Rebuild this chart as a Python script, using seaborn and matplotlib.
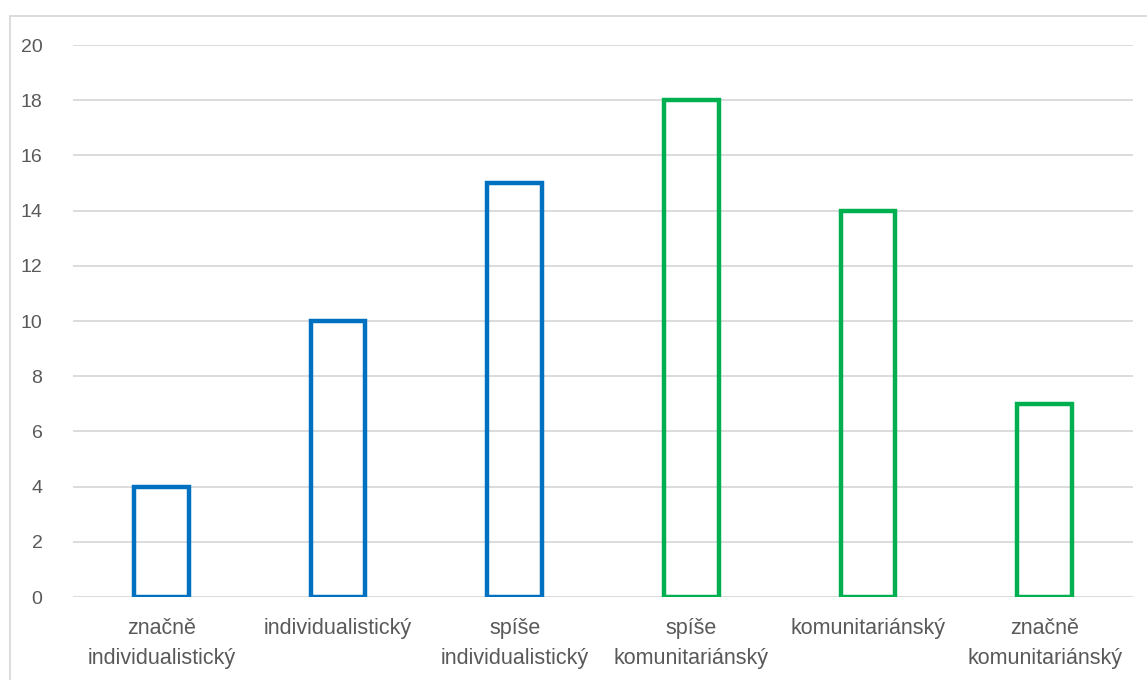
import matplotlib
matplotlib.use("Agg")
import matplotlib.pyplot as plt
import seaborn as sns
from matplotlib.patches import Rectangle

# data
categories = ["značně\nindividualistický", "individualistický", "spíše\nindividualistický",
              "spíše\nkomunitariánský", "komunitariánský", "značně\nkomunitariánský"]
values = [4, 10, 15, 18, 14, 7]
bar_colors = ["#0070C0", "#0070C0", "#0070C0", "#00B050", "#00B050", "#00B050"]
y_ticks = list(range(0, 21, 2))

sns.set_theme(style="white")
plt.rcParams['font.family'] = ['Liberation Sans', 'DejaVu Sans']

fig = plt.figure(figsize=(11.47, 6.8), dpi=100)
ax = fig.add_axes([73 / 1147, 1 - 597 / 680, (1133 - 73) / 1147, (597 - 45) / 680])

sns.barplot(x=categories, y=values, hue=categories, palette=bar_colors, fill=False,
            linewidth=3.2, width=0.31, legend=False, ax=ax, zorder=3)

ax.set_ylim(0, 20)
ax.set_xlim(-0.5, 5.5)
ax.set_yticks(y_ticks)
ax.set_yticklabels([str(t) for t in y_ticks], fontsize=14, color="#595959")
ax.tick_params(axis="x", labelsize=15.5, labelcolor="#595959", pad=15, length=0)
ax.tick_params(axis="y", pad=22, length=0)
ax.set_xlabel("")
ax.set_ylabel("")
ax.yaxis.grid(True, color="#D9D9D9", linewidth=1.3, zorder=0)
ax.set_axisbelow(True)
for s in ax.spines.values():
    s.set_visible(False)
for lab in ax.get_xticklabels():
    lab.set_linespacing(1.6)

# chart area border (cropped)
fig.patches.append(Rectangle((10 / 1147, -0.2), 1.5, 1.2 - 16 / 680, transform=fig.transFigure,
                             fill=False, edgecolor="#D9D9D9", linewidth=1.3))

fig.savefig("out.png", dpi=100)
